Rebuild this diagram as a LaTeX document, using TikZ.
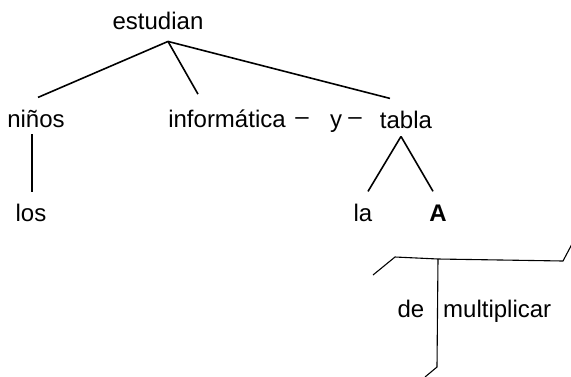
\documentclass[tikz,border=0pt]{standalone}
\usepackage{fontspec}
\setmainfont{Liberation Sans}
\begin{document}
\begin{tikzpicture}[x=1pt,y=-1pt,
    word/.style={anchor=base,inner sep=0pt,font=\fontsize{24}{28}\selectfont},
    branch/.style={line width=1.6pt},
    frame/.style={line width=1.1pt}]
    \useasboundingbox (0,0) rectangle (571,376);
    % words
    \node [word] (estudian) at (158,29) {estudian};
    \node [word] (ninos) at (36,127) {niños};
    \node [word] (informatica) at (227,127) {informática};
    \node [word] (dashA) at (302,124) {–};
    \node [word] (y) at (336,127) {y};
    \node [word] (dashB) at (355,124) {–};
    \node [word] (tabla) at (406,128) {tabla};
    \node [word] (los) at (31,221) {los};
    \node [word] (la) at (363,221) {la};
    \node [word] (A) at (438,221) {\bfseries A};
    \node [word] (de) at (411,317) {de};
    \node [word,anchor=base west] (multiplicar) at (443,317) {multiplicar};
    % tree
    \coordinate (root) at ([shift={(10pt,-12pt)}]estudian.south);
    \draw [branch] (root) -- ([shift={(2pt,12pt)}]ninos.north);
    \draw [branch] (root) -- ([shift={(-29pt,15pt)}]informatica.north);
    \draw [branch] (root) -- ([shift={(-16pt,12pt)}]tabla.north);
    \draw [branch] ([shift={(-4pt,-7pt)}]ninos.south) -- ([shift={(1pt,11pt)}]los.north);
    \coordinate (fork) at ([shift={(-5pt,-8pt)}]tabla.south);
    \draw [branch] (fork) -- ([shift={(5pt,12pt)}]la.north);
    \draw [branch] (fork) -- ([shift={(-5pt,13pt)}]A.north);
    % frame below A
    \coordinate (f1) at (373,275);
    \coordinate (f2) at (395,257);
    \coordinate (f3) at (438,259);
    \coordinate (f4) at (563,261);
    \coordinate (f5) at (572,244);
    \coordinate (f6) at (437,367);
    \coordinate (f7) at (425,377);
    \draw [frame] (f1) -- (f2) -- (f3) -- (f4) -- (f5);
    \draw [frame] (f3) -- (f6) -- (f7);
\end{tikzpicture}
\end{document}
